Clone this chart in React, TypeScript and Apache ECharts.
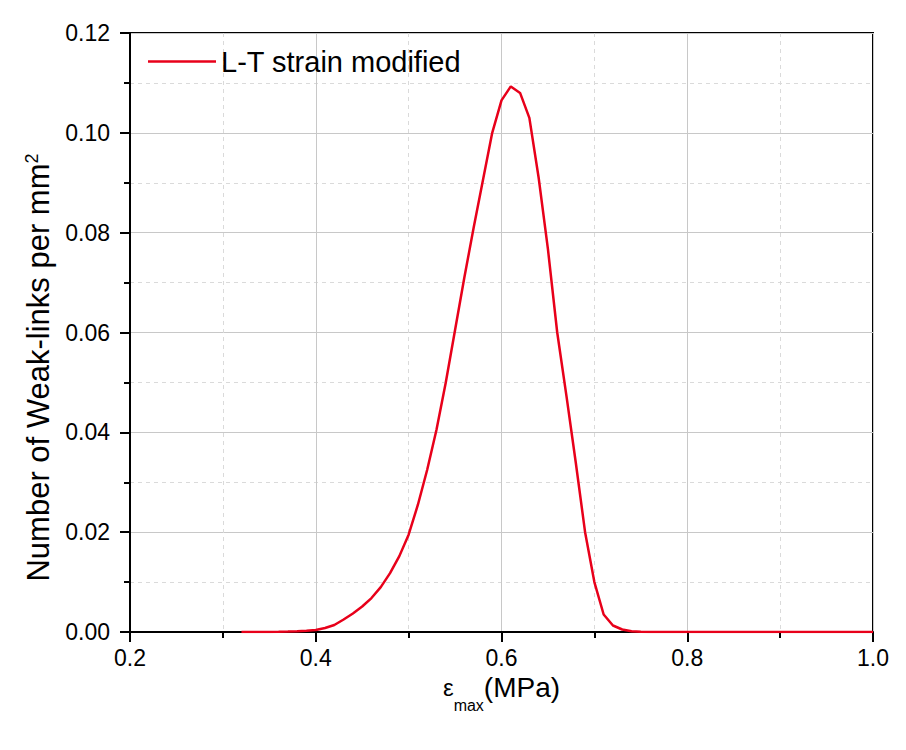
import React, { useEffect, useRef } from "react";
import * as echarts from "echarts";

const seriesName = "L-T strain modified";
const strain = [
  0.32, 0.33, 0.34, 0.35, 0.36, 0.37, 0.38, 0.39, 0.40, 0.41, 0.42, 0.43, 0.44, 0.45, 0.46, 0.47,
  0.48, 0.49, 0.50, 0.51, 0.52, 0.53, 0.54, 0.55, 0.56, 0.57, 0.58, 0.59, 0.60, 0.61, 0.62, 0.63,
  0.64, 0.65, 0.66, 0.67, 0.68, 0.69, 0.70, 0.71, 0.72, 0.73, 0.74, 0.75, 0.76, 0.77, 0.78, 0.79,
  0.80, 0.82, 0.84, 0.86, 0.88, 0.90, 0.92, 0.94, 0.96, 0.98, 1.00,
];
const density = [
  0.0, 0.0, 0.00001, 0.00002, 0.00004, 0.00008, 0.00015, 0.00025, 0.0004, 0.0008, 0.0014, 0.0025,
  0.0037, 0.0051, 0.0068, 0.009, 0.0118, 0.0152, 0.0195, 0.0255, 0.0325, 0.0405, 0.05, 0.0605,
  0.071, 0.081, 0.0905, 0.1, 0.1065, 0.1093, 0.108, 0.103, 0.091, 0.0767, 0.06, 0.0472, 0.0339,
  0.02, 0.01, 0.0035, 0.0013, 0.0005, 0.00015, 0.00004, 0.0, 0.0, 0.0, 0.0, 0.0, 0.0, 0.0, 0.0,
  0.0, 0.0, 0.0, 0.0, 0.0, 0.0, 0.0,
];

const FONT = "'Liberation Sans', Arial, sans-serif";

export default function App() {
  const ref = useRef<HTMLDivElement>(null);
  useEffect(() => {
    if (!ref.current) return;
    const chart = echarts.init(ref.current, undefined, { renderer: "svg" });
    const data = strain.map((x, i) => [x, density[i]]);
    chart.setOption({
      animation: false,
      backgroundColor: "#ffffff",
      textStyle: { fontFamily: FONT },
      grid: {
        left: 130,
        right: 33,
        top: 33,
        bottom: 118,
        show: true,
        borderColor: "#000",
        borderWidth: 2,
        backgroundColor: "#fff",
      },
      legend: {
        left: 143,
        top: 42,
        itemWidth: 68,
        itemHeight: 2.5,
        icon: "rect",
        textStyle: { fontSize: 29, color: "#000", fontFamily: FONT },
        data: [seriesName],
      },
      xAxis: {
        type: "value",
        min: 0.2,
        max: 1.0,
        interval: 0.2,
        name: "{e|ε}{s|max}{b|(MPa)}",
        nameLocation: "middle",
        nameGap: 36,
        nameTextStyle: {
          rich: {
            e: { fontSize: 24, color: "#000", fontFamily: FONT },
            s: { fontSize: 16, color: "#000", fontFamily: FONT, verticalAlign: "bottom", padding: [0, 0, -12, 0] },
            b: { fontSize: 28, color: "#000", fontFamily: FONT },
          },
        },
        axisLine: { show: true, onZero: false, lineStyle: { color: "#000", width: 2 } },
        axisTick: { show: true, inside: false, length: 10, lineStyle: { color: "#000", width: 2 } },
        minorTick: { show: true, splitNumber: 2, length: 6, lineStyle: { color: "#000", width: 2 } },
        axisLabel: {
          margin: 14,
          fontSize: 23,
          color: "#000",
          fontFamily: FONT,
          formatter: (v: number) => v.toFixed(1),
        },
        splitLine: { show: true, lineStyle: { color: "#c8c8c8", width: 1 } },
        minorSplitLine: { show: true, lineStyle: { color: "#dadada", width: 1, type: [4, 4] } },
      },
      yAxis: {
        type: "value",
        min: 0,
        max: 0.12,
        interval: 0.02,
        name: "{a|Number of Weak-links per mm}{s|2}",
        nameLocation: "middle",
        nameRotate: 90,
        nameGap: 70,
        nameTextStyle: {
          padding: [0, 70, 0, 0],
          rich: {
            a: { fontSize: 31, color: "#000", fontFamily: FONT },
            s: { fontSize: 18, color: "#000", fontFamily: FONT, verticalAlign: "top" },
          },
        },
        axisLine: { show: true, onZero: false, lineStyle: { color: "#000", width: 2 } },
        axisTick: { show: true, inside: false, length: 10, lineStyle: { color: "#000", width: 2 } },
        minorTick: { show: true, splitNumber: 2, length: 6, lineStyle: { color: "#000", width: 2 } },
        axisLabel: {
          margin: 20,
          fontSize: 23,
          color: "#000",
          fontFamily: FONT,
          formatter: (v: number) => v.toFixed(2),
        },
        splitLine: { show: true, lineStyle: { color: "#c8c8c8", width: 1 } },
        minorSplitLine: { show: true, lineStyle: { color: "#dadada", width: 1, type: [4, 4] } },
      },
      series: [
        {
          name: seriesName,
          type: "line",
          data,
          symbol: "none",
          showSymbol: false,
          smooth: false,
          color: "#e8001a",
          lineStyle: { color: "#e8001a", width: 2.5 },
          z: 5,
        },
      ],
    });
    return () => chart.dispose();
  }, []);
  return <div ref={ref} style={{ width: 906, height: 750, margin: -8 }} />;
}
